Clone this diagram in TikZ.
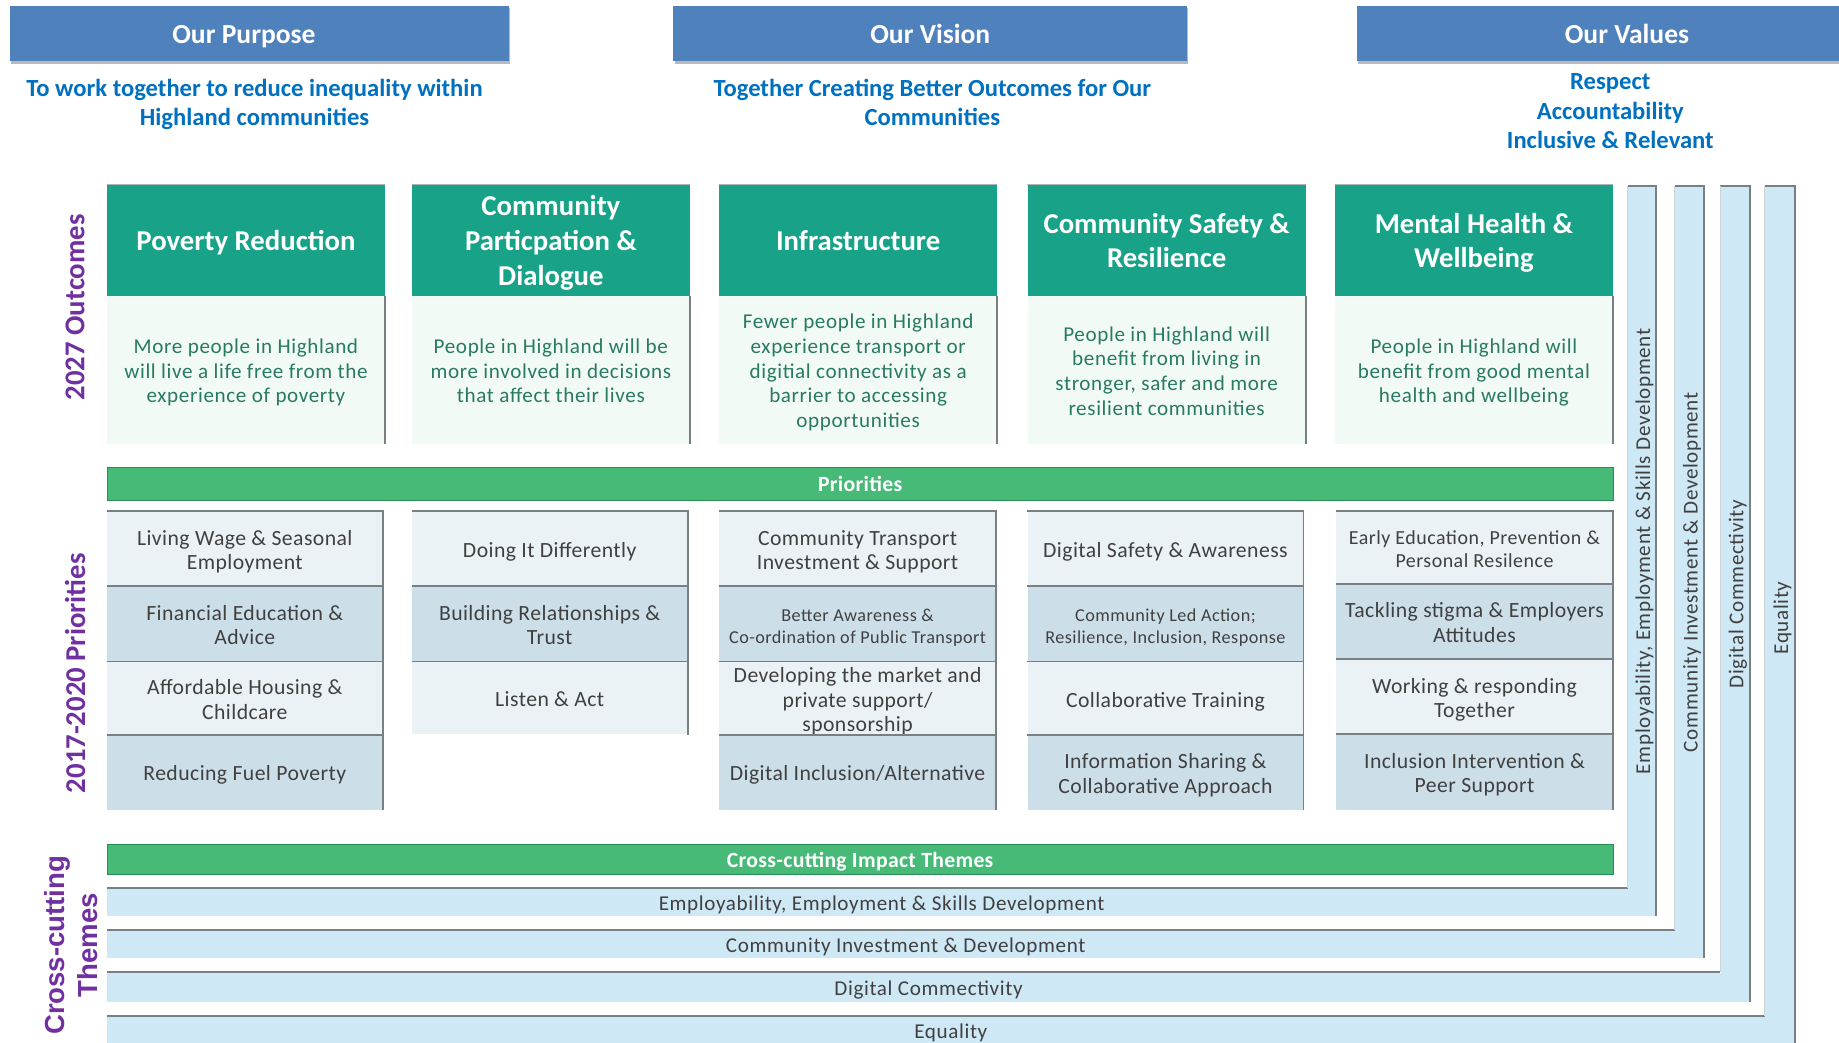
\documentclass[tikz,border=0pt]{standalone}
\usepackage{fontspec}
\setmainfont{Carlito}
\newfontfamily\arialb{Liberation Sans}
\usetikzlibrary{shadows}
\definecolor{hdrblue}{RGB}{79,129,189}
\definecolor{txtblue}{RGB}{0,112,192}
\definecolor{outteal}{RGB}{24,162,136}
\definecolor{bargreen}{RGB}{72,186,120}
\definecolor{bargreenD}{RGB}{40,140,85}
\definecolor{mint}{RGB}{242,250,246}
\definecolor{bodygreen}{RGB}{40,122,98}
\definecolor{prlight}{RGB}{234,242,246}
\definecolor{prdark}{RGB}{204,223,233}
\definecolor{bandblue}{RGB}{207,232,246}
\definecolor{purp}{RGB}{112,48,160}
\definecolor{edgegray}{RGB}{120,128,132}
\definecolor{prtext}{RGB}{64,64,64}
\newcommand{\mlines}[1]{\raisebox{-3pt}[\height][\depth]{\begin{tabular}{@{}c@{}}#1\end{tabular}}}
\begin{document}
\begin{tikzpicture}[x=1pt,y=-1pt,
  hdr/.style={fill=hdrblue, anchor=north west, inner sep=0, minimum height=47, drop shadow={shadow xshift=1pt, shadow yshift=-2pt, opacity=0.45, fill=black!60}},
  hdrtxt/.style={text=white, font=\bfseries\fontsize{23.5}{28}\selectfont, inner sep=0},
  subtxt/.style={text=txtblue, font=\bfseries\fontsize{21}{25}\selectfont, inner sep=0},
  ohead/.style={fill=outteal, text=white, font=\bfseries\fontsize{24.5}{29.5}\selectfont, anchor=north west, inner sep=0, minimum width=237, minimum height=95},
  obody/.style={fill=mint, text=bodygreen, font=\fontsize{18}{21}\selectfont\addfontfeature{LetterSpace=3}, anchor=north west, inner sep=0, minimum width=237, minimum height=126},
  pbox/.style={text=prtext, font=\fontsize{18.5}{21}\selectfont\addfontfeature{LetterSpace=2}, anchor=north west, inner sep=0, minimum width=235},
  psmall/.style={font=\fontsize{15.5}{19}\selectfont\addfontfeature{LetterSpace=2.5}},
  pl/.style={pbox, fill=prlight},
  pd/.style={pbox, fill=prdark},
  gbar/.style={fill=bargreen, draw=bargreenD, line width=0.8, text=white, font=\bfseries\fontsize{18.5}{20}\selectfont\addfontfeature{LetterSpace=1.5}, anchor=north west, inner sep=0, minimum width=1284},
  bandh/.style={fill=bandblue, text=prtext, font=\fontsize{18}{20}\selectfont\addfontfeature{LetterSpace=3}, anchor=north west, inner sep=0},
  bandv/.style={fill=bandblue, text=prtext, font=\fontsize{18}{20}\selectfont\addfontfeature{LetterSpace=3}, inner sep=0, rotate=90},
  edgeln/.style={draw=edgegray, line width=1.6},
  sidelbl/.style={text=purp, rotate=90, font=\bfseries\fontsize{24.5}{28}\selectfont}
]
\useasboundingbox[fill=white] (0,0) rectangle (1568,889);

% ---------- top headers ----------
\node[hdr, minimum width=426] (purpose) at (8,5) {};
\node[hdrtxt] (purposeL) at (208,28.5) {\mlines{Our Purpose}};
\node[hdr, minimum width=438] (vision) at (574,5) {};
\node[hdrtxt] (visionL) at (vision.center) {\mlines{Our Vision}};
\node[hdr, minimum width=460] (values) at (1157,5) {};
\node[hdrtxt] (valuesL) at (values.center) {\mlines{Our Values}};

\node[subtxt] (purposeT) at (217,86.5) {\mlines{To work together to reduce inequality within\\Highland communities}};
\node[subtxt] (visionT) at (795,86.5) {\mlines{Together Creating Better Outcomes for Our\\Communities}};
\node[subtxt] (valuesT) at (1373,93.5) {\mlines{Respect\\Accountability\\Inclusive \& Relevant}};

% ---------- side labels ----------
\node[sidelbl] (lblOut) at (64,262) {2027 Outcomes};
\node[sidelbl] (lblPri) at (64,574) {2017-2020 Priorities};
\node[text=purp, rotate=90, align=center, font=\arialb\bfseries\fontsize{23.5}{28}\selectfont] (lblCross) at (61,806) {Cross-cutting\\Themes};

% ---------- cross-cutting theme bands (behind) ----------
\node[bandh, minimum width=1321, minimum height=24] (h1) at (91,757) {\mlines{Employability, Employment \& Skills Development}};
\node[bandv, minimum width=622, minimum height=24] (v1) at (1400,470) {\mlines{Employability, Employment \& Skills Development}};
\node[bandh, minimum width=1362, minimum height=24] (h2) at (91,793) {\mlines{Community Investment \& Development}};
\node[bandv, minimum width=658, minimum height=25] (v2) at (1440.5,488) {\mlines{Community Investment \& Development}};
\node[bandh, minimum width=1401, minimum height=25] (h3) at (91,829) {\mlines{Digital Commectivity}};
\node[bandv, minimum width=695, minimum height=25] (v3) at (1479.5,506.5) {\mlines{Digital Commectivity}};
\node[bandh, minimum width=1439, minimum height=24] (h4) at (91,866) {\mlines{Equality}};
\node[bandv, minimum width=736, minimum height=25] (v4) at (1517.5,527) {\mlines{Equality}};
\fill[bandblue] (h4.south west) rectangle ([yshift=-10pt]h4.south east);
\foreach \k in {1,2,3,4}{
  \draw[edgeln] (h\k.north west) -- (h\k.north west -| v\k.north);
  \draw[edgeln] (v\k.north east) -- (v\k.south east) -- (v\k.south west);
  \draw[draw=edgegray!35, line width=0.8] (v\k.north east) -- (v\k.north east |- h\k.north);
}

% ---------- outcome columns ----------
\node[ohead] (o1h) at (91,157) {\mlines{Poverty Reduction}};
\node[obody] (o1b) at (91,252) {\mlines{More people in Highland\\will live a life free from the\\experience of poverty}};
\node[ohead] (o2h) at (351,157) {\mlines{Community\\Particpation \&\\Dialogue}};
\node[obody] (o2b) at (351,252) {\mlines{People in Highland will be\\more involved in decisions\\that affect their lives}};
\node[ohead] (o3h) at (613,157) {\mlines{Infrastructure}};
\node[obody] (o3b) at (613,252) {\mlines{Fewer people in Highland\\experience transport or\\digitial connectivity as a\\barrier to accessing\\opportunities}};
\node[ohead] (o4h) at (876,157) {\mlines{Community Safety \&\\Resilience}};
\node[obody] (o4b) at (876,252) {\mlines{People in Highland will\\benefit from living in\\stronger, safer and more\\resilient communities}};
\node[ohead] (o5h) at (1138,157) {\mlines{Mental Health \&\\Wellbeing}};
\node[obody] (o5b) at (1138,252) {\mlines{People in Highland will\\benefit from good mental\\health and wellbeing}};
\foreach \c in {1,...,5}{
  \draw[draw=edgegray!60, line width=1] (o\c h.north west) -- (o\c h.north east);
  \draw[edgeln] (o\c b.north east) -- (o\c b.south east);
}

% ---------- priorities ----------
\node[gbar, minimum height=28] (prbar) at (91,398) {\mlines{Priorities}};

\node[pl, minimum height=64] (p11) at (91,436) {\mlines{Living Wage \& Seasonal\\Employment}};
\node[pd, minimum height=64] (p12) at (91,500) {\mlines{Financial Education \&\\Advice}};
\node[pl, minimum height=63] (p13) at (91,564) {\mlines{Affordable Housing \&\\Childcare}};
\node[pd, minimum height=63] (p14) at (91,627) {\mlines{Reducing Fuel Poverty}};

\node[pl, minimum height=64] (p21) at (351,436) {\mlines{Doing It Differently}};
\node[pd, minimum height=64] (p22) at (351,500) {\mlines{Building Relationships \&\\Trust}};
\node[pl, minimum height=62] (p23) at (351,564) {\mlines{Listen \& Act}};

\node[pl, minimum width=236, minimum height=64] (p31) at (613,436) {\mlines{Community Transport\\Investment \& Support}};
\node[pd, psmall, minimum width=236, minimum height=64] (p32) at (613,500) {\mlines{Better Awareness \&\\Co-ordination of Public Transport}};
\node[pl, minimum width=236, minimum height=63] (p33) at (613,564) {\mlines{Developing the market and\\private support/\\sponsorship}};
\node[pd, minimum width=236, minimum height=63] (p34) at (613,627) {\mlines{Digital Inclusion/Alternative}};

\node[pl, minimum height=64] (p41) at (876,436) {\mlines{Digital Safety \& Awareness}};
\node[pd, psmall, minimum height=64] (p42) at (876,500) {\mlines{Community Led Action;\\Resilience, Inclusion, Response}};
\node[pl, minimum height=63] (p43) at (876,564) {\mlines{Collaborative Training}};
\node[pd, minimum height=63] (p44) at (876,627) {\mlines{Information Sharing \&\\Collaborative Approach}};

\node[pl, minimum width=236, minimum height=62, font=\fontsize{17}{20}\selectfont\addfontfeature{LetterSpace=2.5}] (p51) at (1139,436) {\mlines{Early Education, Prevention \&\\Personal Resilence}};
\node[pd, minimum width=236, minimum height=64] (p52) at (1139,498) {\mlines{Tackling stigma \& Employers\\Attitudes}};
\node[pl, minimum width=236, minimum height=64] (p53) at (1139,562) {\mlines{Working \& responding\\Together}};
\node[pd, minimum width=236, minimum height=64] (p54) at (1139,626) {\mlines{Inclusion Intervention \&\\Peer Support}};

\foreach \n in {p11,p12,p13,p14,p21,p22,p23,p31,p32,p33,p34,p41,p42,p43,p44,p51,p52,p53,p54}{
  \draw[edgeln] (\n.north west) -- (\n.north east) -- (\n.south east);
}

% ---------- cross-cutting bar ----------
\node[gbar, minimum height=25] (ccbar) at (91,720) {\mlines{Cross-cutting Impact Themes}};
\end{tikzpicture}
\end{document}
